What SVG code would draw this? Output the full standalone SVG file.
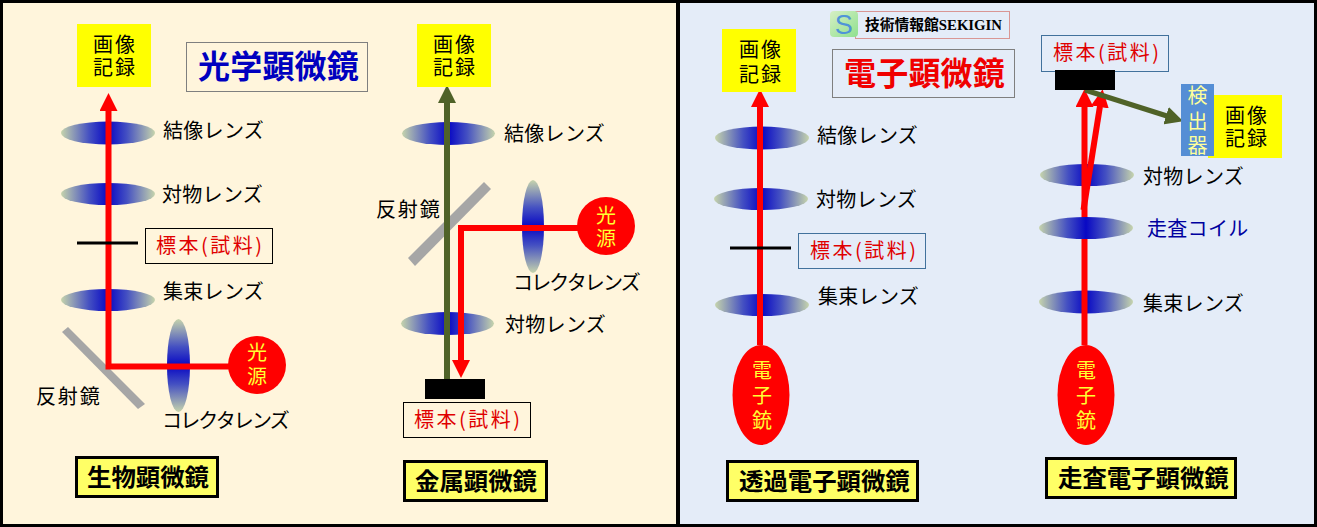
<svg xmlns="http://www.w3.org/2000/svg" width="1317" height="527" viewBox="0 0 1317 527">
<style>
text{font-family:"Noto Sans CJK JP","Noto Sans",sans-serif;font-size:20px;fill:#000;letter-spacing:.3px}
.c{text-anchor:middle}
.rec{letter-spacing:2px}
.ph{font-size:20px;fill:#e00000;font-feature-settings:"palt";letter-spacing:2.500px}
.y{fill:#ffff33;text-anchor:middle;letter-spacing:0}
.t{font-size:24.400px;font-weight:700;letter-spacing:0}
.h{font-size:32px;font-weight:700;letter-spacing:.2px}
.imgbox{fill:#ffff00}
.tb{fill:#ffff66;stroke:#000;stroke-width:3}
.src{fill:#ff0000}
.bar{stroke:#000;stroke-width:3}
.red{fill:none;stroke:#ff0000;stroke-width:6}
.ol{fill:none;stroke:#4f6228;stroke-width:6}
.hl{fill:url(#lh)}.vl{fill:url(#lv)}
.mir{fill:#a6a6a6}
</style>
<defs>
<linearGradient id="lh" x1="0" y1="0" x2="1" y2="0"><stop offset="0" stop-color="#c6d4ac"/><stop offset=".3" stop-color="#4450c2"/><stop offset=".5" stop-color="#0808c4"/><stop offset=".7" stop-color="#4450c2"/><stop offset="1" stop-color="#c6d4ac"/></linearGradient>
<linearGradient id="lv" x1="0" y1="0" x2="0" y2="1"><stop offset="0" stop-color="#c6d4ac"/><stop offset=".3" stop-color="#4450c2"/><stop offset=".5" stop-color="#0808c4"/><stop offset=".7" stop-color="#4450c2"/><stop offset="1" stop-color="#c6d4ac"/></linearGradient>
<linearGradient id="ic" x1="0" y1="0" x2="1" y2="1"><stop offset="0" stop-color="#d6efc4"/><stop offset="1" stop-color="#8fe08f"/></linearGradient>
<marker id="ar" markerUnits="userSpaceOnUse" markerWidth="18" markerHeight="18" refX="1" refY="9" orient="auto"><path d="M0,0L18,9L0,18Z" fill="#ff0000"/></marker>
<marker id="ao" markerUnits="userSpaceOnUse" markerWidth="18" markerHeight="18" refX="1" refY="9" orient="auto"><path d="M0,0L18,9L0,18Z" fill="#4f6228"/></marker>
</defs>
<rect width="1317" height="527" fill="#000"/>
<rect x="3" y="3" width="673" height="521" fill="#fff5dc"/>
<rect x="680" y="3" width="634" height="521" fill="#e4ecf8"/>

<g id="bio-title"><rect x="186.500" y="42.500" width="181" height="49" fill="none" stroke="#7f7f7f"/><text class="h" x="198" y="78" style="fill:#0000bf">光学顕微鏡</text></g>
<g id="bio-record"><rect class="imgbox" x="77" y="24" width="74" height="63"/><text class="rec"><tspan x="93" y="52">画像</tspan><tspan x="93" y="75">記録</tspan></text></g>
<g id="bio-lens-image"><ellipse class="hl" cx="108" cy="133" rx="47" ry="11.500"/><text x="163" y="138">結像レンズ</text></g>
<g id="bio-lens-objective"><ellipse class="hl" cx="108" cy="194" rx="47" ry="11"/><text x="162" y="202">対物レンズ</text></g>
<g id="bio-lens-condenser"><ellipse class="hl" cx="108" cy="300" rx="47" ry="11"/><text x="163" y="299">集束レンズ</text></g>
<g id="bio-lens-collector"><ellipse class="vl" cx="178.500" cy="365.500" rx="11.500" ry="46.500"/><text x="162" y="428" textLength="128" lengthAdjust="spacing">コレクタレンズ</text></g>
<g id="bio-mirror"><polygon class="mir" points="62,332 68,327 145,404 138,409"/><text x="36" y="404" textLength="64">反射鏡</text></g>

<g id="met-lens-image"><ellipse class="hl" cx="448.500" cy="133.500" rx="46.500" ry="11.500"/><text x="504" y="141">結像レンズ</text></g>
<g id="met-mirror"><polygon class="mir" points="408,258 415,266 491,189 484,182"/><text x="376" y="217" textLength="64">反射鏡</text></g>
<g id="met-lens-collector"><ellipse class="vl" cx="533" cy="226.500" rx="11" ry="46.500"/><text x="513" y="290" textLength="128" lengthAdjust="spacing">コレクタレンズ</text></g>
<g id="met-lens-objective"><ellipse class="hl" cx="447.500" cy="323.500" rx="46.500" ry="11.500"/><text x="505" y="332">対物レンズ</text></g>

<g id="tem-lens-image"><ellipse class="hl" cx="762" cy="138" rx="47" ry="11.500"/><text x="817" y="143">結像レンズ</text></g>
<g id="tem-lens-objective"><ellipse class="hl" cx="761" cy="199" rx="47" ry="11"/><text x="816" y="207">対物レンズ</text></g>
<g id="tem-lens-condenser"><ellipse class="hl" cx="762" cy="305" rx="47" ry="11"/><text x="818" y="304">集束レンズ</text></g>

<g id="sem-lens-objective"><ellipse class="hl" cx="1087" cy="175" rx="47" ry="11"/><text x="1143" y="184">対物レンズ</text></g>
<g id="sem-lens-condenser"><ellipse class="hl" cx="1086" cy="302" rx="47" ry="11.500"/><text x="1143" y="311">集束レンズ</text></g>

<g id="connectors">
<path class="red" d="M229,366.500H108.500V110" marker-end="url(#ar)"/>
<path class="ol" d="M447,379V102" marker-end="url(#ao)"/>
<path class="red" d="M578,228H461V361" marker-end="url(#ar)"/>
<path class="red" d="M760,345V106" marker-end="url(#ar)"/>
<path class="red" d="M1084.500,345V106" marker-end="url(#ar)"/>
<path class="red" d="M1083.500,210L1100,106" marker-end="url(#ar)"/>
<path class="ol" d="M1085,90L1167,116" style="stroke-width:5" marker-end="url(#ao)"/>
</g>

<g id="bio-sample"><line class="bar" x1="77" y1="243" x2="138" y2="243"/><rect x="145.500" y="228.500" width="127" height="35" fill="none" stroke="#000"/><text class="ph" x="156" y="253">標本(試料)</text></g>
<g id="bio-source"><circle class="src" cx="257" cy="365" r="29"/><text class="y"><tspan x="257" y="360">光</tspan><tspan x="257" y="384">源</tspan></text></g>
<g id="bio-label"><rect class="tb" x="76.500" y="457.500" width="141" height="39"/><text class="t" x="87" y="486">生物顕微鏡</text></g>

<g id="met-record"><rect class="imgbox" x="417" y="24" width="74" height="63"/><text class="rec"><tspan x="433" y="52">画像</tspan><tspan x="433" y="75">記録</tspan></text></g>
<g id="met-source"><circle class="src" cx="606" cy="226" r="29"/><text class="y"><tspan x="606" y="223">光</tspan><tspan x="606" y="246">源</tspan></text></g>
<g id="met-sample"><rect x="425" y="379" width="60" height="20" fill="#000"/><rect x="403.500" y="402.500" width="127" height="35" fill="none" stroke="#000"/><text class="ph" x="414" y="427">標本(試料)</text></g>
<g id="met-label"><rect class="tb" x="404.500" y="461.500" width="142" height="39"/><text class="t" x="415" y="490">金属顕微鏡</text></g>

<g id="logo"><rect x="855.500" y="11.500" width="154" height="27" fill="none" stroke="#d99694"/><rect x="830" y="11" width="28" height="26" rx="4" fill="url(#ic)"/><text x="844" y="34" class="c" style="font-family:'Liberation Sans',sans-serif;font-size:27px;fill:#4f94d8">S</text><text x="865" y="30" style="font-family:'Liberation Serif','Noto Sans CJK JP',serif;font-size:14.600px;font-weight:700;letter-spacing:0" textLength="137" lengthAdjust="spacingAndGlyphs">技術情報館SEKIGIN</text></g>
<g id="em-title"><rect x="832.500" y="49.500" width="182" height="48" fill="none" stroke="#7f7f7f"/><text class="h" x="844" y="85" style="fill:#f00000">電子顕微鏡</text></g>
<g id="tem-record"><rect class="imgbox" x="722" y="29" width="74" height="63"/><text class="rec"><tspan x="739" y="57">画像</tspan><tspan x="739" y="82">記録</tspan></text></g>
<g id="tem-sample"><line class="bar" x1="730" y1="248" x2="791" y2="248"/><rect x="798.500" y="233.500" width="127" height="35" fill="none" stroke="#41719c"/><text class="ph" x="810" y="258">標本(試料)</text></g>
<g id="tem-gun"><ellipse class="src" cx="761" cy="395" rx="28.500" ry="50"/><text class="y"><tspan x="762" y="378">電</tspan><tspan x="762" y="403">子</tspan><tspan x="762" y="428">銃</tspan></text></g>
<g id="tem-label"><rect class="tb" x="727.500" y="461.500" width="190" height="39"/><text class="t" x="739" y="490">透過電子顕微鏡</text></g>

<g id="sem-sample"><rect x="1041.500" y="35.500" width="127" height="36" fill="none" stroke="#41719c"/><text class="ph" x="1053" y="60">標本(試料)</text><rect x="1055" y="70" width="60" height="20" fill="#000"/></g>
<g id="sem-lens-scan"><ellipse class="hl" cx="1086" cy="228" rx="47" ry="11"/><text x="1147" y="236" style="fill:#00009f">走査コイル</text></g>
<g id="sem-record"><rect class="imgbox" x="1208" y="95" width="74" height="63"/><text class="rec"><tspan x="1225" y="123">画像</tspan><tspan x="1225" y="146">記録</tspan></text></g>
<g id="sem-detector"><rect x="1181" y="84" width="33" height="72" fill="#558ed5"/><text class="y" style="fill:#ffff99"><tspan x="1197.500" y="103">検</tspan><tspan x="1197.500" y="129">出</tspan><tspan x="1197.500" y="153">器</tspan></text></g>
<g id="sem-gun"><ellipse class="src" cx="1086" cy="395" rx="28.500" ry="50"/><text class="y"><tspan x="1086" y="378">電</tspan><tspan x="1086" y="403">子</tspan><tspan x="1086" y="428">銃</tspan></text></g>
<g id="sem-label"><rect class="tb" x="1046.500" y="458.500" width="189" height="39"/><text class="t" x="1058" y="487">走査電子顕微鏡</text></g>
</svg>
